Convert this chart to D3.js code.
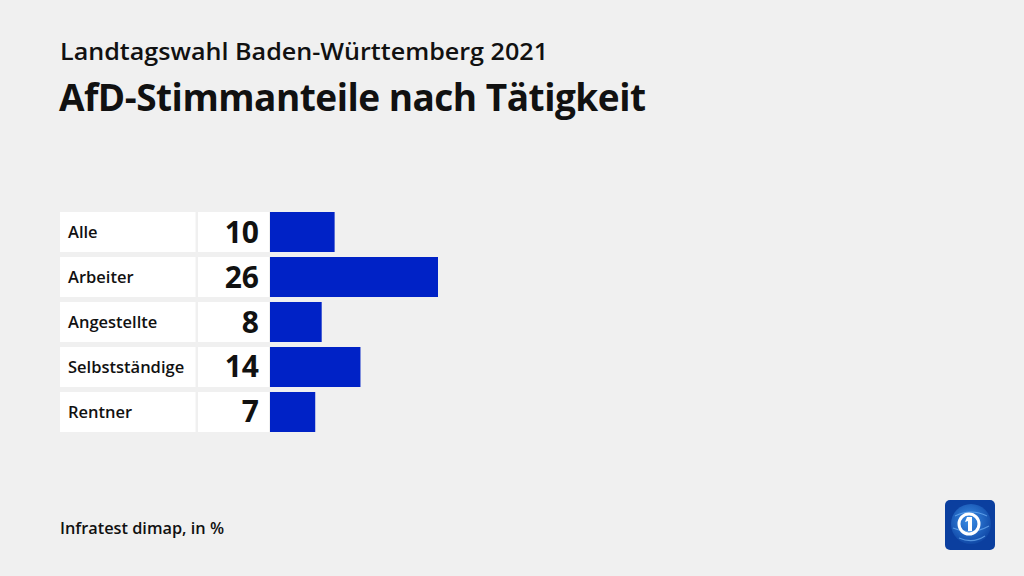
<!DOCTYPE html>
<html><head><meta charset="utf-8">
<script src="https://cdn.jsdelivr.net/npm/d3@7"></script>
<style>
html,body{margin:0;padding:0;background:#f0f0f0;}
svg{display:block;font-family:"Open Sans",sans-serif;}
</style></head>
<body><svg id="c" width="1024" height="576"></svg>
<script>
const categories = ["Alle","Arbeiter","Angestellte","Selbstständige","Rentner"];
const values = [10,26,8,14,7];
const subtitle = "Landtagswahl Baden-Württemberg 2021";
const title = "AfD-Stimmanteile nach Tätigkeit";
const source = "Infratest dimap, in %";

const svg = d3.select("#c");
svg.append("rect").attr("width",1024).attr("height",576).attr("fill","#f0f0f0");

svg.append("text").attr("x",60).attr("y",60).attr("font-size",24).attr("font-weight",600)
  .attr("fill","#111").attr("textLength",488).attr("lengthAdjust","spacingAndGlyphs").text(subtitle);
svg.append("text").attr("x",59).attr("y",111).attr("font-size",37).attr("font-weight",700)
  .attr("fill","#111").attr("letter-spacing","-0.5").text(title);
svg.append("text").attr("x",60).attr("y",534).attr("font-size",16).attr("font-weight",600)
  .attr("fill","#111").attr("textLength",164).attr("lengthAdjust","spacingAndGlyphs").text(source);

const y = d3.scaleBand().domain(categories).range([212,432]).paddingInner(0.111).paddingOuter(0);
const x = d3.scaleLinear().domain([0,26]).range([270,438]);

const rows = svg.selectAll("g.row").data(categories.map((c,i)=>({c,v:values[i]}))).join("g").attr("class","row");
rows.append("rect").attr("x",60).attr("y",d=>y(d.c)).attr("width",135.5).attr("height",y.bandwidth()).attr("fill","#fff");
rows.append("rect").attr("x",198).attr("y",d=>y(d.c)).attr("width",71).attr("height",y.bandwidth()).attr("fill","#fff");
rows.append("rect").attr("x",x(0)).attr("y",d=>y(d.c)).attr("width",d=>x(d.v)-x(0)).attr("height",y.bandwidth()).attr("fill","#0022c6");
rows.append("text").attr("x",68).attr("y",d=>y(d.c)+y.bandwidth()/2+6).attr("font-size",16.5).attr("font-weight",600)
  .attr("fill","#111").text(d=>d.c);
rows.append("text").attr("x",259).attr("y",d=>y(d.c)+y.bandwidth()/2+10.5).attr("font-size",30).attr("font-weight",700)
  .attr("text-anchor","end").attr("fill","#111").text(d=>d.v);

// logo
const defs = svg.append("defs");
const g1 = defs.append("radialGradient").attr("id","lg").attr("cx","0.45").attr("cy","0.4").attr("r","0.7");
g1.append("stop").attr("offset","0").attr("stop-color","#3a8ee6");
g1.append("stop").attr("offset","1").attr("stop-color","#0a3e9e");
const lg = svg.append("g").attr("transform","translate(945,500)");
lg.append("rect").attr("width",50).attr("height",50).attr("rx",5).attr("fill","#0b3f9f");
lg.append("circle").attr("cx",26).attr("cy",24).attr("r",20).attr("fill","url(#lg)");
lg.append("path").attr("d","M10 16 Q26 8 42 16 M8 28 Q26 36 44 26 M14 38 Q28 44 40 36").attr("stroke","#7fc0ff").attr("stroke-width",1.2).attr("fill","none").attr("opacity",0.6);
lg.append("circle").attr("cx",24).attr("cy",24).attr("r",10).attr("fill","none").attr("stroke","#fff").attr("stroke-width",3);
lg.append("path").attr("d","M22 17 L27 17 L27 31 L23 31 L23 21 L20 22 Z").attr("fill","#fff");
</script></body></html>
